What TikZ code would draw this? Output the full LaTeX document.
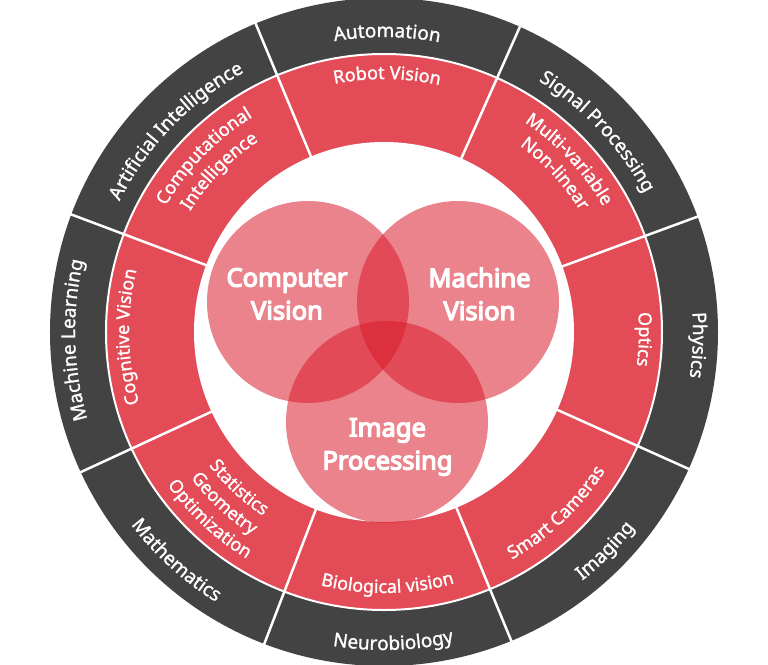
\documentclass[tikz,border=0pt]{standalone}
\usepackage{fontspec}
\setmainfont{Noto Sans}
\newfontfamily\bandfamily{Noto Sans}[FakeBold=1.3]
\newfontfamily\vennfamily{Noto Sans}[FakeBold=5]
\usetikzlibrary{decorations.text}

\definecolor{bandgray}{HTML}{434343}
\definecolor{bandred}{HTML}{E34B56}
\definecolor{vennred}{RGB}{218,26,42}

\newcommand\outerband{\bandfamily\fontsize{19}{19}\selectfont}
\newcommand\innerband{\bandfamily\fontsize{18}{18}\selectfont}

\tikzset{
  outerlabel/.style={decorate,decoration={text along path,text align=center,
    text color=white,text={|\outerband|#1}}},
  innerlabel/.style={decorate,decoration={text along path,text align=center,
    text color=white,text={|\innerband|#1}}},
  divider/.style={white,line width=2.5pt},
  venn/.style={fill=vennred,fill opacity=0.54},
  vennlabel/.style={text=white,font=\vennfamily\fontsize{25.5}{33}\selectfont,align=center}
}

\begin{document}
\begin{tikzpicture}[x=1pt,y=1pt]
\useasboundingbox (-384,-332) rectangle (384,332);

\fill[bandgray] (0,0) circle[radius=334];
\fill[bandred] (0,0) circle[radius=278];
\draw[white,line width=2pt] (0,0) circle[radius=278];

\foreach \a in {20.2,66,112.6,159.4,204.8,249,292.4,335.8}
  \draw[divider] (\a:186) -- (\a:338);

\fill[white] (0,0) circle[radius=190];

\fill[venn] (-76,30) circle[radius=101];
\fill[venn] (74,30) circle[radius=101];
\fill[venn] (3,-90) circle[radius=101];

\node[vennlabel] (cv) at (-97,38) {Computer\\Vision};
\node[vennlabel] (mv) at (95.5,38) {Machine\\Vision};
\node[vennlabel] (ip) at (3.5,-115) {Image\\Processing};

\path[outerlabel={Automation}] (129.4:295) arc[start angle=129.4,end angle=49.4,radius=295];
\path[outerlabel={Signal Processing}] (83.2:295) arc[start angle=83.2,end angle=3.2,radius=295];
\path[outerlabel={Artificial Intelligence}] (176:295) arc[start angle=176,end angle=96,radius=295];
\path[outerlabel={Physics}] (37.6:309) arc[start angle=37.6,end angle=-42.4,radius=309];
\path[outerlabel={Machine Learning}] (221.5:309) arc[start angle=221.5,end angle=141.5,radius=309];
\path[outerlabel={Mathematics}] (187.7:318) arc[start angle=187.7,end angle=267.7,radius=318];
\path[outerlabel={Neurobiology}] (231.7:318) arc[start angle=231.7,end angle=311.7,radius=318];
\path[outerlabel={Imaging}] (275.3:318) arc[start angle=275.3,end angle=355.3,radius=318];

\path[innerlabel={Robot Vision}] (129.3:253) arc[start angle=129.3,end angle=49.3,radius=253];
\path[innerlabel={Multi-variable}] (83:252.5) arc[start angle=83,end angle=3,radius=252.5];
\path[innerlabel={Non-linear}] (82.8:230.5) arc[start angle=82.8,end angle=2.8,radius=230.5];
\path[innerlabel={Computational}] (175.7:252) arc[start angle=175.7,end angle=95.7,radius=252];
\path[innerlabel={Intelligence}] (175.7:228.5) arc[start angle=175.7,end angle=95.7,radius=228.5];
\path[innerlabel={Optics}] (38.4:255) arc[start angle=38.4,end angle=-41.6,radius=255];
\path[innerlabel={Cognitive Vision}] (221.1:255) arc[start angle=221.1,end angle=141.1,radius=255];
\path[innerlabel={Statistics}] (187:220) arc[start angle=187,end angle=267,radius=220];
\path[innerlabel={Geometry}] (187:242) arc[start angle=187,end angle=267,radius=242];
\path[innerlabel={Optimization}] (187:265) arc[start angle=187,end angle=267,radius=265];
\path[innerlabel={Biological vision}] (230.8:261) arc[start angle=230.8,end angle=310.8,radius=261];
\path[innerlabel={Smart Cameras}] (273.6:261) arc[start angle=273.6,end angle=353.6,radius=261];

\end{tikzpicture}
\end{document}
